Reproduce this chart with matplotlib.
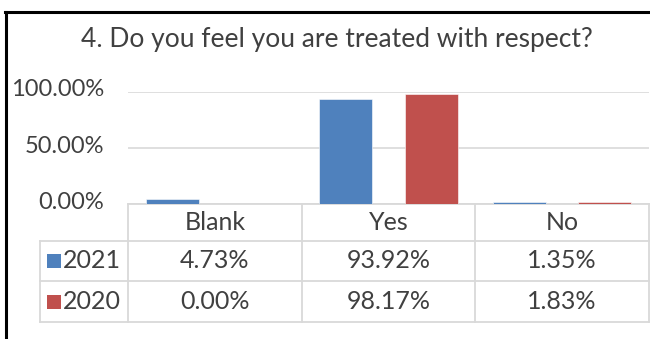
import matplotlib
matplotlib.use("Agg")
import matplotlib.pyplot as plt
from matplotlib.lines import Line2D
from matplotlib.patches import Rectangle
from matplotlib.transforms import Affine2D, ScaledTranslation, blended_transform_factory
from matplotlib.ticker import PercentFormatter

TITLE = "4. Do you feel you are treated with respect?"
CATEGORIES = ["Blank", "Yes", "No"]
YEARS = ["2021", "2020"]
VALUES_2021 = [4.73, 93.92, 1.35]
VALUES_2020 = [0.00, 98.17, 1.83]
YTICKS = [0, 50, 100]

COLORS = {"2021": "#4F81BD", "2020": "#C0504D"}
TEXT_COLOR = "#404040"
GRID_COLOR = "#D9D9D9"
FONT = "Lato"

W, H = 650, 339
plt.rcParams["font.family"] = [FONT, "DejaVu Sans"]

fig = plt.figure(figsize=(W / 100, H / 100), dpi=100)


def px_box(left, top, right, bottom):
    return [left / W, 1 - bottom / H, (right - left) / W, (bottom - top) / H]


ax = fig.add_axes(px_box(128, 92, 649, 204))

bar_w = 0.305
offset = 0.245
xs = range(len(CATEGORIES))
series = {"2021": VALUES_2021, "2020": VALUES_2020}
for sign, year in zip((-1, 1), YEARS):
    ax.bar([x + sign * offset for x in xs], series[year], width=bar_w,
           color=COLORS[year], edgecolor="white", linewidth=0.4, zorder=3)

ax.set_xlim(-0.5, len(CATEGORIES) - 0.5)
ax.set_ylim(0, 100)
ax.set_yticks(YTICKS)
ax.yaxis.set_major_formatter(PercentFormatter(decimals=2))
ax.tick_params(axis="y", length=0, pad=17, labelsize=17, labelcolor=TEXT_COLOR)
# value labels sit a little above their gridlines
lift = ScaledTranslation(0, 4 / 100, fig.dpi_scale_trans)
for lbl in ax.get_yticklabels():
    lbl.set_transform(lbl.get_transform() + lift)
ax.set_xticks([])
ax.grid(axis="y", color=GRID_COLOR, linewidth=1.2, zorder=0)
for side in ax.spines:
    ax.spines[side].set_visible(False)

fig.text(0.518, 1 - 40 / H, TITLE, ha="center", va="center",
         fontsize=19, color=TEXT_COLOR)

# data table below the plot: x follows the category axis, y in pixels from the top
px_y = Affine2D().scale(1, -1).translate(0, H)
tab = blended_transform_factory(ax.transData, px_y)
fig_px = Affine2D().scale(1, -1).translate(0, H)

x_lab = -0.5 - 88 / 173.5
row_tops = [204, 241, 281, 322]
line_kw = dict(color=GRID_COLOR, linewidth=1.3, clip_on=False)

ax.add_line(Line2D([-0.5, 2.5], [204, 204], transform=tab, **line_kw))
for y in row_tops[1:]:
    ax.add_line(Line2D([x_lab, 2.5], [y, y], transform=tab, **line_kw))
for xb in [-0.5, 0.5, 1.5, 2.5]:
    ax.add_line(Line2D([xb, xb], [204, 322], transform=tab, **line_kw))
ax.add_line(Line2D([x_lab, x_lab], [241, 322], transform=tab, **line_kw))

for x, cat in zip(xs, CATEGORIES):
    ax.text(x, 223, cat, transform=tab, ha="center", va="center",
            fontsize=18, color=TEXT_COLOR, clip_on=False)

for r, year in enumerate(YEARS):
    yc = (row_tops[r + 1] + row_tops[r + 2]) / 2
    for x, v in zip(xs, series[year]):
        ax.text(x, yc, f"{v:.2f}%", transform=tab, ha="center", va="center",
                fontsize=18, color=TEXT_COLOR, clip_on=False)
    fig.patches.append(Rectangle((47, yc - 7), 14, 14, transform=fig_px,
                                 facecolor=COLORS[year], edgecolor="none"))
    fig.text(63 / W, 1 - yc / H, year, ha="left", va="center",
             fontsize=18, color=TEXT_COLOR)

# black frame on the top and left edges
fig.add_artist(Line2D([5, W], [12, 12], transform=fig_px, color="black", linewidth=2.2))
fig.add_artist(Line2D([5.5, 5.5], [12, H], transform=fig_px, color="black", linewidth=2.2))

fig.savefig("out.png", dpi=100)
